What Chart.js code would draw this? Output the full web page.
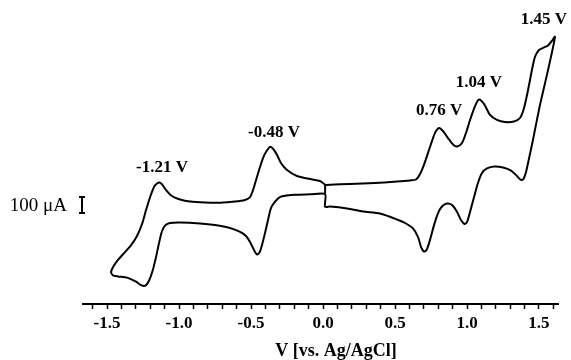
<!DOCTYPE html>
<html lang="en">
<head>
    <meta charset="UTF-8">
    <title>Cyclic voltammogram</title>
    <script src="https://cdn.jsdelivr.net/npm/chart.js"></script>
    <style>
        body {
            margin: 0;
            background: #fff;
        }
        canvas {
            display: block;
        }
    </style>
</head>
<body>

<canvas id="cvChart" width="571" height="360"></canvas>

<script>
    // potential (V vs. Ag/AgCl), read along the trace starting at 0 V going positive
    const potential = [
        0.014, 0.049, 0.188, 0.361, 0.514, 0.604, 0.646, 0.674, 0.701, 0.743,
        0.778, 0.806, 0.833, 0.868, 0.903, 0.931, 0.965, 0.993, 1.021, 1.056,
        1.083, 1.118, 1.160, 1.208, 1.264, 1.326, 1.368, 1.396, 1.424, 1.451,
        1.472, 1.500, 1.535, 1.563, 1.590, 1.611,
        1.583, 1.552, 1.507, 1.458, 1.424, 1.410, 1.392, 1.375, 1.347, 1.306,
        1.250, 1.188, 1.139, 1.104, 1.076, 1.049, 1.021, 1.000, 0.983, 0.958,
        0.931, 0.896, 0.861, 0.826, 0.799, 0.771, 0.743, 0.719, 0.701, 0.681,
        0.660, 0.625, 0.576, 0.514, 0.396, 0.278, 0.167, 0.049, 0.014, 0.014,
        -0.090, -0.194, -0.250, -0.299, -0.333, -0.361, -0.382, -0.403, -0.424, -0.441,
        -0.458, -0.479, -0.507, -0.535, -0.576, -0.646, -0.750, -0.854, -0.993, -1.063,
        -1.097, -1.118, -1.139, -1.160, -1.184, -1.208, -1.233, -1.264, -1.299, -1.361,
        -1.424, -1.458, -1.472,
        -1.458, -1.424, -1.382, -1.333, -1.292, -1.257, -1.229, -1.201, -1.174, -1.153,
        -1.135, -1.118, -1.090, -1.049, -0.993, -0.924, -0.819, -0.715, -0.611, -0.542,
        -0.507, -0.486, -0.465, -0.444, -0.417, -0.392, -0.365, -0.340, -0.319, -0.292,
        -0.250, -0.181, -0.090, -0.021, 0.000, 0.014, 0.014
    ];

    // current (uA), same order
    const current = [
        -13, -11, -6, 0, 9, 16, 22, 56, 113, 225,
        313, 344, 325, 281, 241, 228, 250, 313, 394, 481,
        522, 494, 425, 394, 381, 384, 406, 469, 581, 706,
        788, 831, 847, 859, 888, 914,
        788, 663, 488, 269, 125, 69, 25, 19, 44, 78,
        97, 103, 91, 63, 0, -88, -181, -244, -256, -231,
        -181, -138, -128, -147, -188, -263, -356, -419, -428, -400,
        -338, -284, -253, -228, -191, -178, -159, -147, -148, -69,
        -71, -73, -78, -88, -116, -156, -231, -313, -388, -434,
        -447, -419, -369, -331, -306, -281, -263, -253, -247, -250,
        -266, -300, -375, -463, -550, -609, -641, -638, -616, -591,
        -584, -578, -556,
        -525, -481, -438, -388, -331, -256, -169, -88, -25, -3,
        3, -9, -44, -81, -103, -116, -122, -123, -116, -106,
        -88, -44, 19, 81, 156, 200, 227, 206, 175, 125,
        81, 44, 25, 13, 0, -13, -69
    ];

    // peak labels and the trace point each one sits over
    const peakLabels = ['-1.21 V', '-0.48 V', '0.76 V', '1.04 V', '1.45 V'];
    const peakIndex = [120, 136, 11, 20, 35];

    const xMin = -1.667, xMax = 1.632;
    const yMin = -756, yMax = 1081;
    const scaleBarFrom = -187.5, scaleBarSize = 100;

    const points = potential.map((v, i) => ({x: v, y: current[i]}));

    const serif = '"Liberation Serif", "DejaVu Serif", serif';

    const annotations = {
        id: 'annotations',
        afterDraw(chart) {
            const ctx = chart.ctx;
            const xs = chart.scales.x;
            const ys = chart.scales.y;
            const area = chart.chartArea;
            ctx.save();
            ctx.fillStyle = '#000';
            ctx.strokeStyle = '#000';

            // peak labels
            ctx.font = 'bold 17px ' + serif;
            ctx.textAlign = 'center';
            ctx.textBaseline = 'middle';
            peakLabels.forEach((txt, k) => {
                const p = points[peakIndex[k]];
                const w = ctx.measureText(txt).width;
                let px = xs.getPixelForValue(p.x);
                px = Math.min(px, chart.width - 4 - w / 2);
                const py = ys.getPixelForValue(p.y) - 17;
                ctx.fillText(txt, px, py);
            });

            // scale bar
            const bx = area.left - 1;
            const b1 = ys.getPixelForValue(scaleBarFrom);
            const b2 = ys.getPixelForValue(scaleBarFrom + scaleBarSize);
            ctx.lineWidth = 2;
            ctx.beginPath();
            ctx.moveTo(bx, b1);
            ctx.lineTo(bx, b2);
            ctx.moveTo(bx - 3, b1);
            ctx.lineTo(bx + 3, b1);
            ctx.moveTo(bx - 3, b2);
            ctx.lineTo(bx + 3, b2);
            ctx.stroke();

            ctx.font = '19px ' + serif;
            ctx.textAlign = 'right';
            ctx.fillText('100 \u03bcA', bx - 15, (b1 + b2) / 2 + 1);

            // axis title
            ctx.font = 'bold 18px ' + serif;
            ctx.textAlign = 'center';
            ctx.fillText('V [vs. Ag/AgCl]', 336, 351);
            ctx.restore();
        }
    };

    new Chart(document.getElementById('cvChart'), {
        type: 'scatter',
        data: {
            datasets: [{
                data: points,
                showLine: true,
                borderColor: '#000',
                borderWidth: 2,
                pointRadius: 0,
                tension: 0.25
            }]
        },
        options: {
            responsive: false,
            animation: false,
            layout: {
                padding: {left: 83, right: 13, top: 10, bottom: 0}
            },
            plugins: {
                legend: {display: false},
                tooltip: {enabled: false}
            },
            scales: {
                x: {
                    type: 'linear',
                    min: xMin,
                    max: xMax,
                    afterFit(scale) {
                        scale.height = 56;
                    },
                    border: {color: '#000', width: 2},
                    grid: {
                        drawOnChartArea: false,
                        drawTicks: true,
                        tickLength: 5,
                        tickWidth: 1.5,
                        tickColor: '#000'
                    },
                    ticks: {
                        stepSize: 0.1,
                        includeBounds: false,
                        autoSkip: false,
                        maxRotation: 0,
                        padding: 4,
                        color: '#000',
                        font: {family: serif, size: 17, weight: 'bold'},
                        callback(v) {
                            return Math.abs(v * 2 - Math.round(v * 2)) < 1e-6 ? v.toFixed(1) : '';
                        }
                    }
                },
                y: {
                    display: false,
                    min: yMin,
                    max: yMax
                }
            }
        },
        plugins: [annotations]
    });
</script>
</body>
</html>
